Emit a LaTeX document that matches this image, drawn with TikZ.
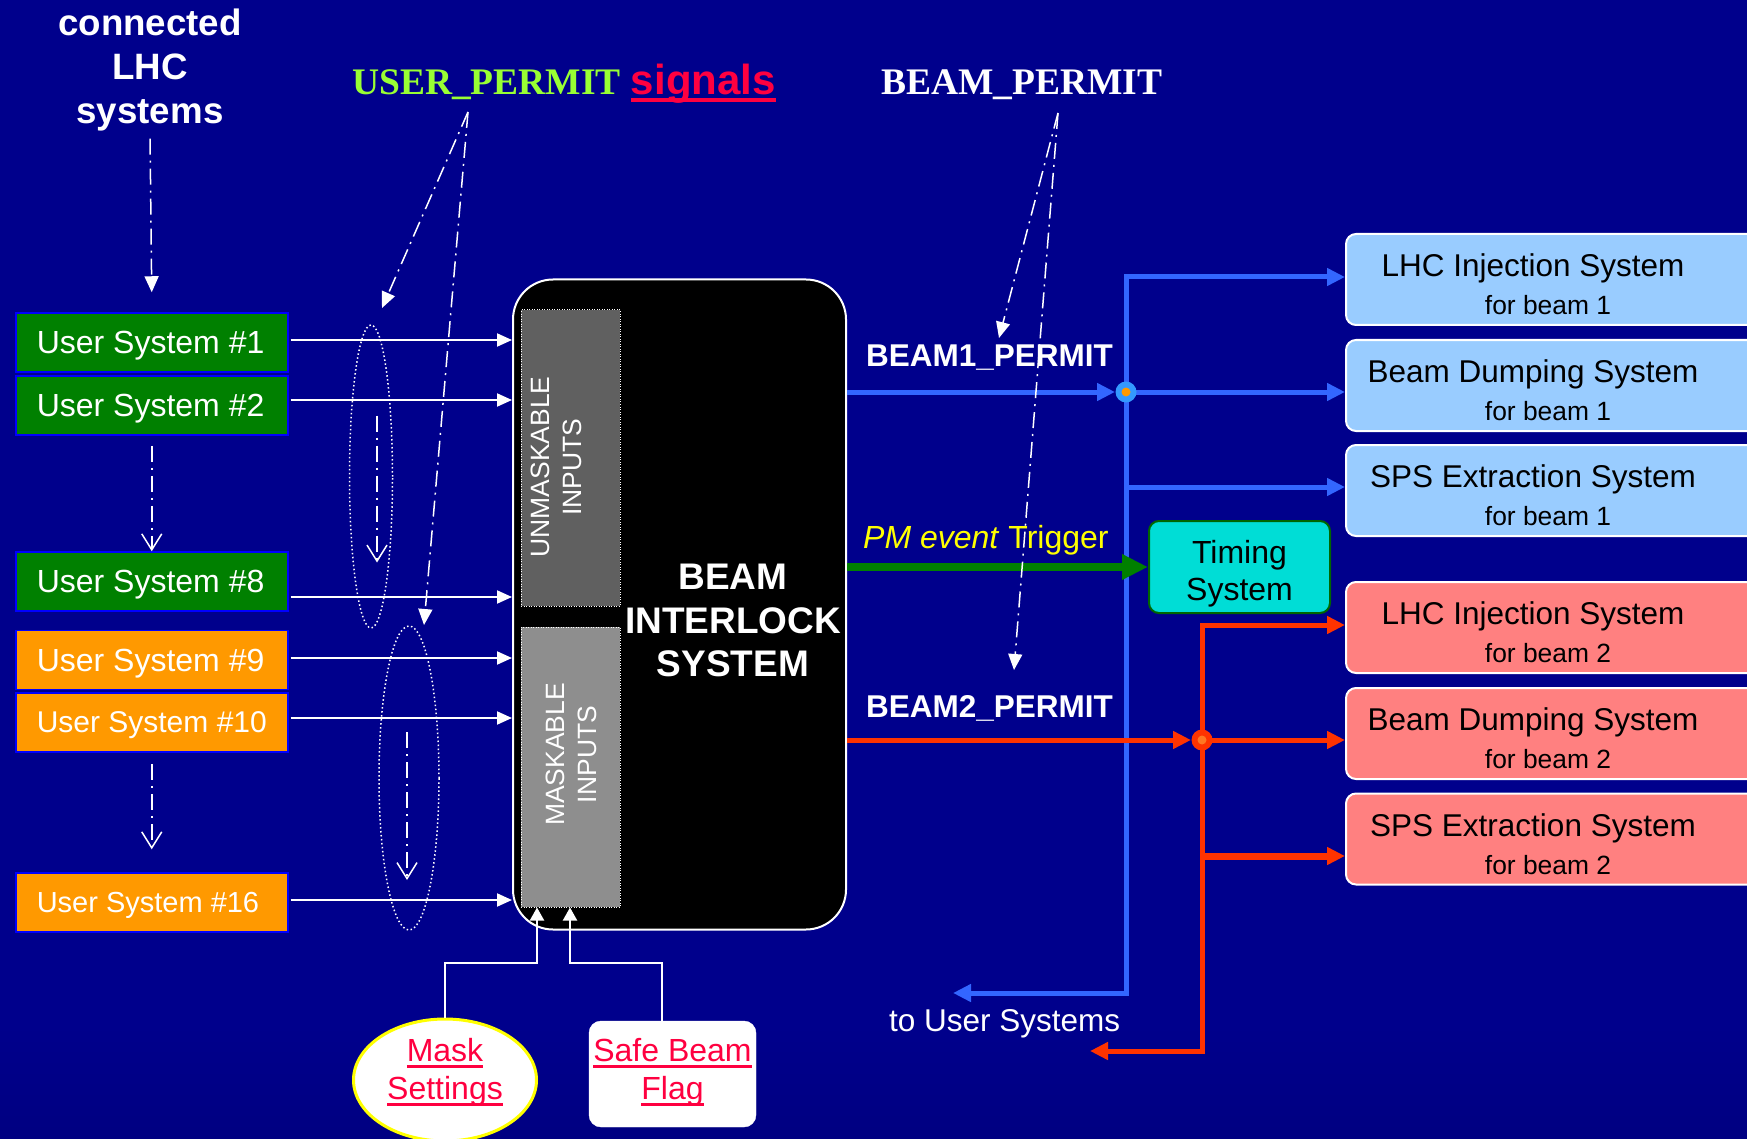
\documentclass[tikz,border=0pt]{standalone}
\usepackage{fontspec}
\setmainfont{Liberation Sans}
\newfontfamily\timesfont{Liberation Serif}
\usetikzlibrary{arrows.meta,shapes.geometric}

\definecolor{bgdark}{HTML}{00004C}
\definecolor{bgblue}{HTML}{00008C}
\definecolor{bgtop}{HTML}{00005C}
\definecolor{usgreen}{HTML}{008000}
\definecolor{usorange}{HTML}{FF9900}
\definecolor{usedge}{HTML}{0000FF}
\definecolor{beamblue}{HTML}{3366FF}
\definecolor{beamred}{HTML}{FF3300}
\definecolor{outblue}{HTML}{99CCFF}
\definecolor{outred}{HTML}{FF8080}
\definecolor{timecyan}{HTML}{00DDD6}
\definecolor{timeedge}{HTML}{006600}
\definecolor{trigreen}{HTML}{008000}
\definecolor{trigyellow}{HTML}{FFFF00}
\definecolor{permitgreen}{HTML}{99FF33}
\definecolor{linkred}{HTML}{FF0040}
\definecolor{unmaskgray}{HTML}{606060}
\definecolor{maskgray}{HTML}{8E8E8E}
\definecolor{maskyellow}{HTML}{FFFF00}
\definecolor{dotblue}{HTML}{3399FF}
\definecolor{dotorange}{HTML}{FF9900}
\definecolor{dotred}{HTML}{FF3300}
\definecolor{dotinner}{HTML}{FF7722}

\pgfdeclareverticalshading{slidebg}{100bp}{color(0bp)=(bgdark); color(30bp)=(bgblue); color(75bp)=(bgblue); color(100bp)=(bgtop)}

\newsavebox\ulbox
\newcommand\redul[3]{\sbox\ulbox{#3}\rlap{\rule[#1]{\wd\ulbox}{#2}}\usebox\ulbox}
\newcommand\ustext[1]{\makebox[230pt][l]{#1}}

\tikzset{
  usbox/.style={draw=usedge, line width=1.5pt, anchor=west, minimum width=272pt, minimum height=59pt, inner sep=0pt, text depth=0pt, text=white, font=\fontsize{32}{38}\selectfont},
  inpbox/.style={draw=white, line width=1pt, dash pattern=on 1pt off 1.5pt, minimum width=99pt, inner sep=0pt},
  inptext/.style={rotate=90, align=center, text=white, font=\fontsize{26.5}{32}\selectfont},
  outbox/.style={draw=white, line width=2pt, rounded corners=10pt, minimum width=414pt, minimum height=91pt, inner sep=0pt},
  outtext/.style={align=center, text=black, text depth=0pt, font=\fontsize{31.5}{38}\selectfont},
  beamlbl/.style={anchor=base west, inner sep=0pt, text=white, font=\bfseries\fontsize{31.5}{38}\selectfont},
  inarrow/.style={draw=white, line width=2pt, shorten <=2pt, -{Triangle[length=15pt,width=13pt]}},
  annot/.style={draw=white, line width=1.5pt, dash pattern=on 16pt off 6pt on 2pt off 6pt},
  filltip/.style={-{Triangle[length=16pt,width=14pt]}},
  opentip/.style={-{Straight Barb[length=16pt,width=20pt]}},
  grpellipse/.style={ellipse, draw=white, line width=1.5pt, dash pattern=on 1.5pt off 2.5pt, inner sep=0pt},
  beam1/.style={draw=beamblue, line width=5pt},
  beam2/.style={draw=beamred, line width=5pt},
  beamtip/.style={-{Triangle[length=18pt,width=17pt]}},
  jdot/.style={circle, minimum size=21pt, inner sep=0pt},
  ctrlarrow/.style={draw=white, line width=2pt, -{Triangle[length=13pt,width=14pt]}},
  linktxt/.style={align=center, text=linkred, text depth=0pt, font=\fontsize{32}{38}\selectfont},
}

\begin{document}
\begin{tikzpicture}[x=1pt,y=-1pt]
\shade[shading=slidebg] (0,0) rectangle (1747,1139);
\useasboundingbox (0,0) rectangle (1747,1139);

% 标题
\node[text=white, font=\bfseries\fontsize{36.7}{44}\selectfont, align=center] (conn) at (150,70) {connected\\LHC\\systems};
\node[anchor=base west, inner sep=0pt] (upermit) at (352,95) {{\timesfont\bfseries\fontsize{37.5}{45}\selectfont\color{permitgreen}USER\_PERMIT}\hspace{10pt}{\bfseries\fontsize{42}{50}\selectfont\color{linkred}\redul{-7pt}{3.5pt}{signals}}};
\node[anchor=base west, inner sep=0pt, text=white, font=\timesfont\bfseries\fontsize{37.5}{45}\selectfont] (bpermit) at (881,95) {BEAM\_PERMIT};

% 用户系统
\foreach \n/\y/\c in {1/342.5/usgreen, 2/405.5/usgreen, 8/581.5/usgreen, 9/660/usorange}
  \node[usbox, fill=\c] (us\n) at (15,\y) {\ustext{User System \#\n}};
\node[usbox, fill=usorange, font=\fontsize{30}{36}\selectfont] (us10) at (15,722.5) {\ustext{User System \#10}};
\node[usbox, fill=usorange, font=\fontsize{29}{35}\selectfont] (us16) at (15,902.5) {\ustext{User System \#16}};

% 联锁系统
\node[draw=white, line width=2pt, fill=black, rounded corners=40pt, minimum width=333pt, minimum height=650pt, inner sep=0pt] (bis) at (679.5,604.5) {};
\node[inpbox, fill=unmaskgray, minimum height=296pt] (unmask) at (570.5,458) {};
\node[inpbox, fill=maskgray, minimum height=280pt] (maskin) at (570.5,767) {};
\node[inptext] (unmasktxt) at (556,467) {UNMASKABLE\\INPUTS};
\node[inptext] (masktxt) at (571,754.5) {MASKABLE\\INPUTS};
\node[text=white, align=center, font=\bfseries\fontsize{37}{43.5}\selectfont] (bistxt) at (733,620.5) {BEAM\\INTERLOCK\\SYSTEM};

% 输入
\foreach \n/\y in {1/340, 2/400, 8/597, 9/658, 10/718, 16/900}
  \draw[inarrow] (us\n.east |- 0,\y) -- (bis.west |- 0,\y);

% 输出系统
\foreach \b/\y/\c/\t/\k in {lhc1/279.5/outblue/LHC Injection System/1, bds1/385.5/outblue/Beam Dumping System/1, sps1/490.5/outblue/SPS Extraction System/1, lhc2/627.5/outred/LHC Injection System/2, bds2/733.5/outred/Beam Dumping System/2, sps2/839/outred/SPS Extraction System/2}
{
  \node[outbox, fill=\c] (\b) at (1553,\y) {};
  \node[outtext] (t\b) at ([xshift=-13pt,yshift=-5pt]\b.center) {\hspace*{-14pt}\t\\{\fontsize{26.4}{38}\selectfont\hspace*{16pt}for beam \k}};
}

% BEAM1
\coordinate (j1) at (1126,392);
\coordinate (b1top) at (1126,277);
\coordinate (b1bot) at (1126,993);
\coordinate (touser1) at (953,993);
\draw[beam1, {Triangle[length=18pt,width=17pt]}-{Triangle[length=18pt,width=17pt]}] (touser1) -- (b1bot) -- (b1top) -- (lhc1.west |- b1top);
\draw[beam1, beamtip] (j1) -- (bds1.west |- j1);
\draw[beam1, beamtip] (j1 |- 0,487) -- (sps1.west |- 0,487);
\draw[beam1, beamtip, shorten >=11pt] (bis.east |- j1) -- (j1);

% 触发
\node[draw=timeedge, line width=2pt, fill=timecyan, rounded corners=10pt, minimum width=181pt, minimum height=92pt, align=center, text depth=0pt, text height=66pt, font=\fontsize{32}{37}\selectfont] (timing) at (1239.5,567) {Timing\\System};
\draw[draw=trigreen, line width=8pt, -{Triangle[length=26pt,width=24pt]}] (bis.east |- timing) -- (timing.west);
\node[anchor=base west, inner sep=0pt, text=trigyellow, font=\fontsize{32}{38}\selectfont] (pmtrig) at (863,548) {\textit{PM event} Trigger};

% BEAM2
\coordinate (j2) at (1202,740);
\coordinate (r2top) at (1202,625);
\coordinate (r2bot) at (1202,1051);
\coordinate (touser2) at (1090,1051);
\draw[beam2, {Triangle[length=18pt,width=17pt]}-{Triangle[length=18pt,width=17pt]}] (touser2) -- (r2bot) -- (r2top) -- (lhc2.west |- r2top);
\draw[beam2, beamtip] (j2) -- (bds2.west |- j2);
\draw[beam2, line width=7pt, beamtip] (j2 |- 0,856) -- (sps2.west |- 0,856);
\draw[beam2, beamtip, shorten >=11pt] (bis.east |- j2) -- (j2);

% 节点
\node[jdot, fill=dotblue] (j1dot) at (j1) {};
\fill[dotorange] (j1dot.center) circle (4.5);
\node[jdot, fill=dotred] (j2dot) at (j2) {};
\fill[dotinner] (j2dot.center) circle (4.5);

\node[beamlbl] (b1lbl) at (866,366) {BEAM1\_PERMIT};
\node[beamlbl] (b2lbl) at (866,717) {BEAM2\_PERMIT};
\node[anchor=base west, inner sep=0pt, text=white, font=\fontsize{31.5}{38}\selectfont] (touserlbl) at (889,1031) {to User Systems};

% 注释箭头
\draw[annot, filltip, shorten <=4pt] (conn.south) -- ([yshift=20pt]us1.north);
\draw[annot, opentip, shorten <=10pt] (us2.south) -- (us8.north);
\draw[annot, opentip, shorten <=11pt, shorten >=23pt] (us10.south) -- (us16.north);

\node[grpellipse, minimum width=43pt, minimum height=303pt] (grp1) at (371,476.5) {};
\node[grpellipse, minimum width=60pt, minimum height=304pt] (grp2) at (409,778) {};
\draw[annot, opentip] ([xshift=6pt,yshift=61pt]grp1.center) -- ([xshift=6pt,yshift=-86pt]grp1.center);
\draw[annot, opentip] ([xshift=-2pt,yshift=46pt]grp2.center) -- ([xshift=-2pt,yshift=-102pt]grp2.center);

\coordinate (uptail) at (468,112);
\coordinate (uptip1) at (382,308);
\coordinate (uptip2) at (424,625);
\draw[annot, filltip] (uptail) -- (uptip1);
\draw[annot, filltip] (uptail) -- (uptip2);

\coordinate (bptail) at (1058,113);
\coordinate (bptip1) at (999,338);
\coordinate (bptip2) at (1014,670);
\draw[annot, filltip] (bptail) -- (bptip1);
\draw[annot, filltip] (bptail) -- (bptip2);

% 屏蔽设置
\node[ellipse, draw=maskyellow, line width=3pt, fill=white, minimum width=183pt, minimum height=122pt, inner sep=0pt] (masks) at (445,1080) {};
\node[linktxt] (maskstxt) at (445,1069) {\redul{-6pt}{2.3pt}{Mask}\\\redul{-6pt}{2.3pt}{Settings}};
\node[draw=white, fill=white, rounded corners=12pt, minimum width=167pt, minimum height=106pt, inner sep=0pt] (safe) at (672.5,1074) {};
\node[linktxt] (safetxt) at (672.5,1069) {\redul{-6pt}{2.3pt}{Safe Beam}\\\redul{-6pt}{2.3pt}{Flag}};
\draw[ctrlarrow] (masks.north) |- (537,963) -- (537,963 |- maskin.south);
\draw[ctrlarrow] ([xshift=-11pt]safe.north) |- (570,963) -- (570,963 |- maskin.south);
\end{tikzpicture}
\end{document}
